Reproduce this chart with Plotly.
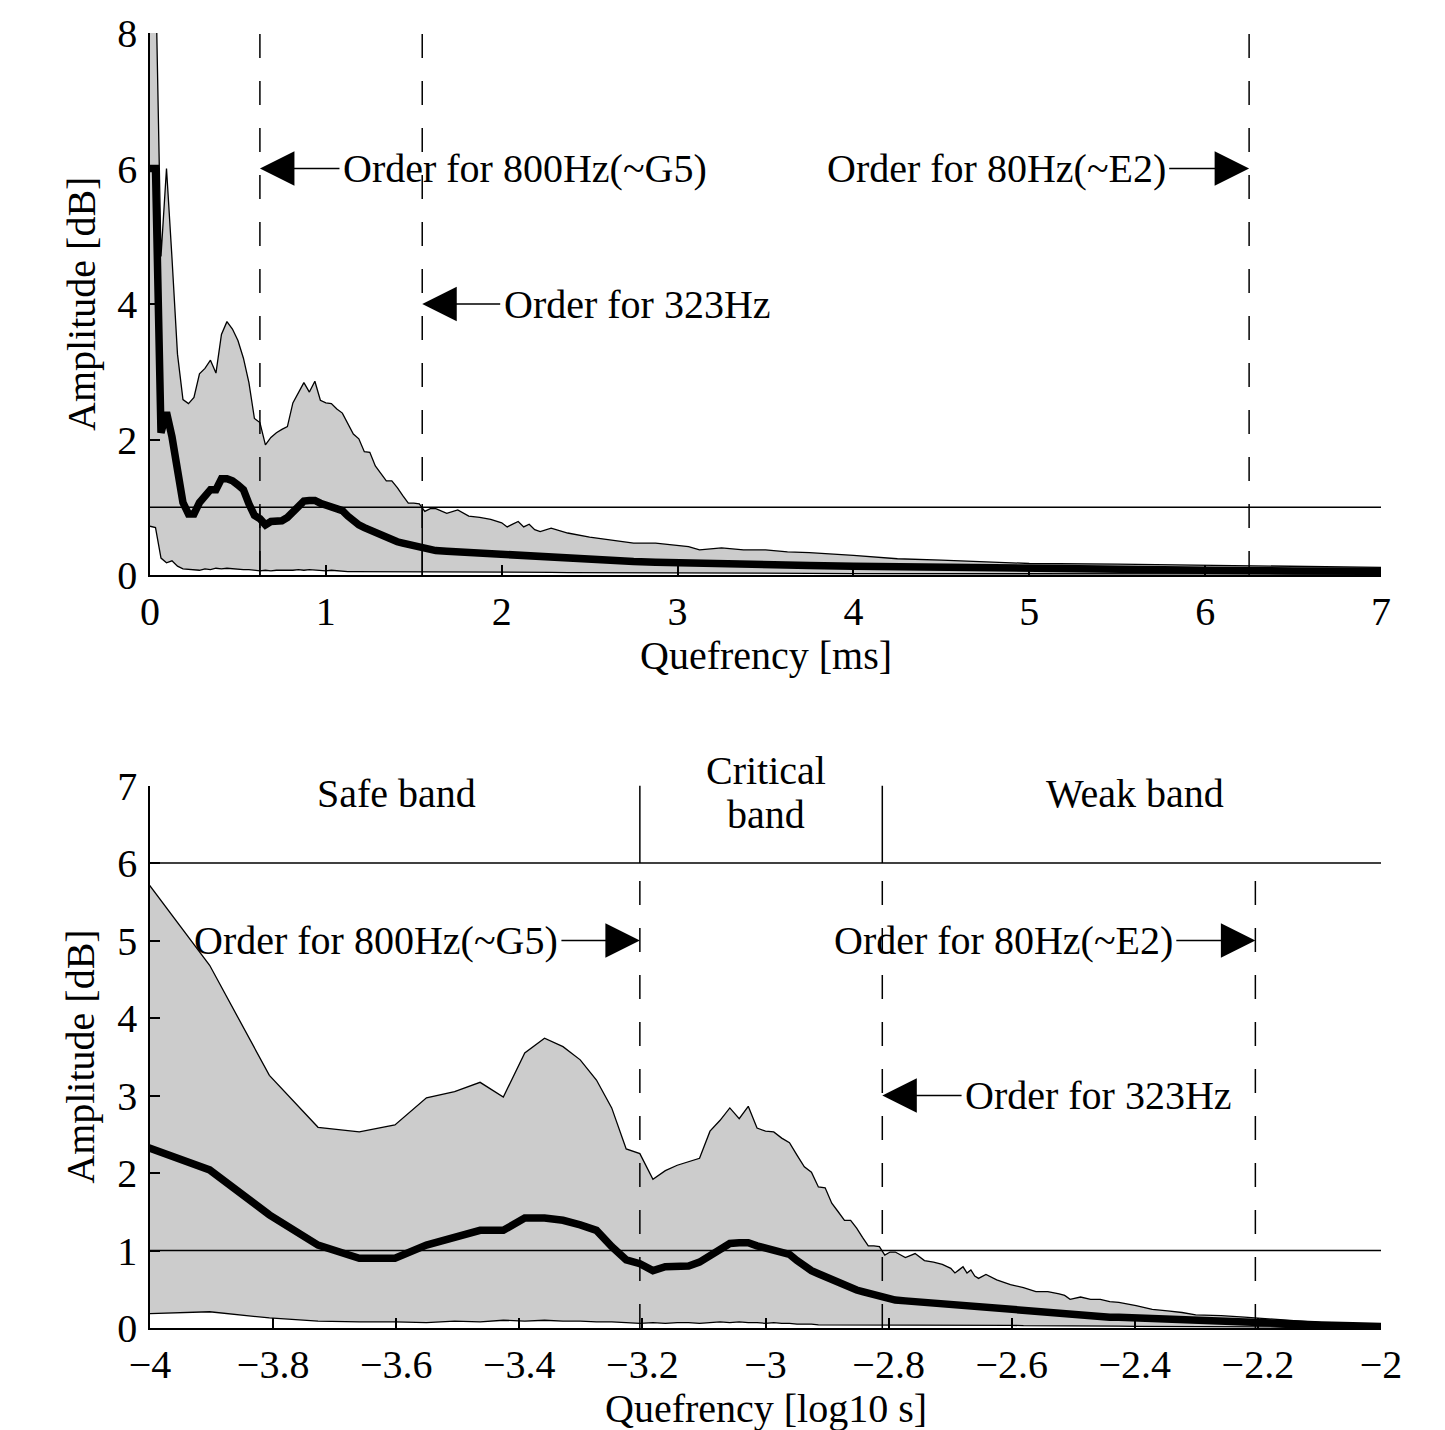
import numpy as np
import plotly.graph_objects as go

# ---------------- data ----------------
quefrency_ms = [
    0.0, 0.0313, 0.0625, 0.0938, 0.125, 0.1563, 0.1875, 0.2188, 0.25, 0.2813,
    0.3125, 0.3438, 0.375, 0.4063, 0.4375, 0.4688, 0.5, 0.5313, 0.5625, 0.5938,
    0.625, 0.6563, 0.6875, 0.7188, 0.75, 0.7813, 0.8125, 0.8438, 0.875, 0.9063,
    0.9375, 0.9688, 1.0, 1.0313, 1.0625, 1.0938, 1.125, 1.1563, 1.1875, 1.2188,
    1.25, 1.2813, 1.3125, 1.3438, 1.375, 1.4063, 1.4375, 1.4688, 1.5, 1.5313,
    1.5625, 1.5938,
    1.625, 1.6875, 1.75, 1.8125, 1.875, 1.9375, 2.0, 2.03125, 2.0625, 2.09375,
    2.125, 2.15625, 2.1875, 2.21875, 2.28125, 2.375, 2.5, 2.625, 2.75, 2.875,
    3.0, 3.0625, 3.125, 3.25, 3.375, 3.5, 3.625, 3.75, 4.0, 4.25,
    4.5, 4.75, 5.0, 5.5, 6.0, 6.5, 7.0, 8.0, 9.0, 10.0,
]
upper_db = [
    9.0, 9.0, 4.7, 6.0, 4.68, 3.26, 2.59, 2.53, 2.62, 2.97,
    3.05, 3.17, 2.98, 3.55, 3.74, 3.63, 3.46, 3.20, 2.84, 2.31,
    2.25, 1.92, 2.03, 2.10, 2.15, 2.19, 2.54, 2.68, 2.84, 2.70,
    2.86, 2.58, 2.54, 2.53, 2.45, 2.39, 2.23, 2.08, 2.01, 1.82,
    1.81, 1.61, 1.50, 1.39, 1.39, 1.29, 1.17, 1.06, 1.06, 1.05,
    0.94, 0.98,
    0.98, 0.91, 0.96, 0.87, 0.85, 0.82, 0.77, 0.71, 0.75, 0.79,
    0.71, 0.75, 0.67, 0.64, 0.69, 0.62, 0.56, 0.52, 0.47, 0.47,
    0.44, 0.42, 0.37, 0.40, 0.37, 0.37, 0.34, 0.33, 0.29, 0.24,
    0.22, 0.20, 0.17, 0.16, 0.14, 0.12, 0.11, 0.07, 0.05, 0.04,
]
mean_db = [
    6.0, 6.0, 2.1, 2.40, 2.04, 1.46, 1.07, 0.90, 0.90, 1.07,
    1.18, 1.26, 1.26, 1.42, 1.42, 1.39, 1.33, 1.26, 1.05, 0.88,
    0.83, 0.74, 0.79, 0.80, 0.80, 0.85, 0.94, 1.03, 1.09, 1.10,
    1.10, 1.06, 1.03, 1.01, 0.98, 0.95, 0.87, 0.80, 0.74, 0.70,
    0.66, 0.62, 0.58, 0.55, 0.51, 0.49, 0.47, 0.45, 0.42, 0.40,
    0.38, 0.37,
    0.36, 0.35, 0.34, 0.33, 0.32, 0.31, 0.30, 0.29, 0.29, 0.28,
    0.28, 0.27, 0.27, 0.26, 0.25, 0.24, 0.22, 0.21, 0.20, 0.19,
    0.18, 0.17, 0.17, 0.16, 0.16, 0.15, 0.14, 0.14, 0.13, 0.12,
    0.11, 0.10, 0.09, 0.08, 0.07, 0.06, 0.05, 0.04, 0.03, 0.02,
]
lower_db = [
    0.72, 0.70, 0.25, 0.18, 0.21, 0.13, 0.09, 0.08, 0.08, 0.07,
    0.09, 0.08, 0.10, 0.09, 0.10, 0.09, 0.09, 0.08, 0.08, 0.07,
    0.06, 0.07, 0.06, 0.07, 0.07, 0.06, 0.07, 0.08, 0.07, 0.08,
    0.07, 0.07, 0.06, 0.07, 0.06, 0.06, 0.05, 0.05, 0.05, 0.04,
    0.04, 0.04, 0.04, 0.04, 0.04, 0.04, 0.04, 0.04, 0.04, 0.04,
    0.04, 0.04,
    0.04, 0.04, 0.04, 0.04, 0.04, 0.04, 0.04, 0.04, 0.04, 0.04,
    0.04, 0.04, 0.04, 0.04, 0.04, 0.035, 0.035, 0.03, 0.03, 0.03,
    0.03, 0.03, 0.03, 0.03, 0.025, 0.025, 0.025, 0.025, 0.02, 0.02,
    0.02, 0.02, 0.02, 0.015, 0.015, 0.015, 0.01, 0.01, 0.01, 0.01,
]

# order markers (ms): 800 Hz, 323 Hz, 80 Hz
order_800_ms = 0.625
order_323_ms = 1.548
order_80_ms = 6.25
threshold_db = 1
band_line_db = 6

top_xticks = [0, 1, 2, 3, 4, 5, 6, 7]
top_yticks = [0, 2, 4, 6, 8]
bot_xticks = [-4, -3.8, -3.6, -3.4, -3.2, -3.0, -2.8, -2.6, -2.4, -2.2, -2.0]
bot_xticklabels = ["\u22124", "\u22123.8", "\u22123.6", "\u22123.4", "\u22123.2", "\u22123",
                   "\u22122.8", "\u22122.6", "\u22122.4", "\u22122.2", "\u22122"]
bot_yticks = [0, 1, 2, 3, 4, 5, 6, 7]

# ---------------- figure ----------------
FONT = "Liberation Serif"
FS = 40
GRAY = "#cccccc"

q = np.array(quefrency_ms)
up = np.array(upper_db)
mn = np.array(mean_db)
lo = np.array(lower_db)

mask = q > 0
qlog = np.log10(q[mask] / 1000.0)

fig = go.Figure()

def add_band(x, lo_, up_, mn_, xa, ya):
    fig.add_trace(go.Scatter(x=x, y=lo_, xaxis=xa, yaxis=ya, mode="lines",
                             line=dict(color="black", width=1.3),
                             showlegend=False, hoverinfo="skip"))
    fig.add_trace(go.Scatter(x=x, y=up_, xaxis=xa, yaxis=ya, mode="lines",
                             fill="tonexty", fillcolor=GRAY,
                             line=dict(color="black", width=1.3),
                             showlegend=False, hoverinfo="skip"))
    fig.add_trace(go.Scatter(x=x, y=mn_, xaxis=xa, yaxis=ya, mode="lines",
                             line=dict(color="black", width=7.5),
                             showlegend=False, hoverinfo="skip"))

add_band(q, lo, up, mn, "x", "y")
add_band(qlog, lo[mask], up[mask], mn[mask], "x2", "y2")

DASH = "24px,23px"
shapes = []
# top panel lines
shapes.append(dict(type="line", xref="x", yref="y", x0=0, x1=7, y0=threshold_db, y1=threshold_db,
                   line=dict(color="black", width=1.5), layer="above"))
for xm in (order_800_ms, order_323_ms, order_80_ms):
    shapes.append(dict(type="line", xref="x", yref="y", x0=xm, x1=xm, y0=0, y1=8,
                       line=dict(color="black", width=1.5, dash=DASH), layer="above"))
for xm in (order_800_ms, order_323_ms):
    shapes.append(dict(type="line", xref="x", yref="y", x0=xm, x1=xm, y0=0, y1=threshold_db,
                       line=dict(color="black", width=1.5), layer="above"))

# bottom panel lines
l800 = np.log10(order_800_ms / 1000)
l323 = np.log10(order_323_ms / 1000)
l80 = np.log10(order_80_ms / 1000)
for yv in (threshold_db, band_line_db):
    shapes.append(dict(type="line", xref="x2", yref="y2", x0=-4, x1=-2, y0=yv, y1=yv,
                       line=dict(color="black", width=1.5), layer="above"))
for xm in (l800, l323, l80):
    shapes.append(dict(type="line", xref="x2", yref="y2", x0=xm, x1=xm, y0=0, y1=band_line_db,
                       line=dict(color="black", width=1.5, dash=DASH), layer="above"))
for xm in (l800, l323):
    shapes.append(dict(type="line", xref="x2", yref="y2", x0=xm, x1=xm, y0=band_line_db, y1=7,
                       line=dict(color="black", width=1.5), layer="above"))

ann = []
tfont = dict(family=FONT, size=FS, color="black")

def arrow(xr, yr, x, y, ax):
    ann.append(dict(xref=xr, yref=yr, axref=xr, ayref=yr, x=x, y=y, ax=ax, ay=y,
                    text="", showarrow=True, arrowhead=2, arrowsize=4.6, arrowwidth=1.5,
                    arrowcolor="black", standoff=0, startstandoff=0))

def label(xr, yr, x, y, text, xanchor, yshift=0):
    ann.append(dict(xref=xr, yref=yr, x=x, y=y, text=text, showarrow=False, yshift=yshift,
                    xanchor=xanchor, yanchor="middle", font=tfont))

# top annotations
t800_x = 1.086
t80_x = 5.787
t323_x = 2.0
arrow("x", "y", order_800_ms, 6, t800_x)
label("x", "y", t800_x, 6, "Order for 800Hz(~G5)", "left")
arrow("x", "y", order_80_ms, 6, t80_x)
label("x", "y", t80_x, 6, "Order for 80Hz(~E2)", "right")
arrow("x", "y", order_323_ms, 4, t323_x)
label("x", "y", t323_x, 4, "Order for 323Hz", "left")

# bottom annotations
b800_x = -3.334
b80_x = -2.335
b323_x = -2.679
arrow("x2", "y2", l800, 5, b800_x)
label("x2", "y2", b800_x, 5, "Order for 800Hz(~G5)", "right")
arrow("x2", "y2", l80, 5, b80_x)
label("x2", "y2", b80_x, 5, "Order for 80Hz(~E2)", "right")
arrow("x2", "y2", l323, 3, b323_x)
label("x2", "y2", b323_x, 3, "Order for 323Hz", "left")

label("x2", "y2", -3.6, 6.9, "Safe band", "center")
label("x2", "y2", -3.0, 6.63, "Critical", "center", yshift=44)
label("x2", "y2", -3.0, 6.63, "band", "center")
label("x2", "y2", -2.4, 6.9, "Weak band", "center")

# axis titles
ann.append(dict(xref="paper", yref="y domain", x=0, y=0.5, xshift=-69, text="Amplitude [dB]",
                textangle=-90, showarrow=False, xanchor="center", yanchor="middle", font=tfont))
ann.append(dict(xref="paper", yref="y2 domain", x=0, y=0.5, xshift=-69, text="Amplitude [dB]",
                textangle=-90, showarrow=False, xanchor="center", yanchor="middle", font=tfont))
ann.append(dict(xref="x domain", yref="y domain", x=0.5, y=0, yshift=-80, text="Quefrency [ms]",
                showarrow=False, xanchor="center", yanchor="middle", font=tfont))
ann.append(dict(xref="x2 domain", yref="y2 domain", x=0.5, y=0, yshift=-80, text="Quefrency [log10 s]",
                showarrow=False, xanchor="center", yanchor="middle", font=tfont))

axis_common = dict(showline=True, linecolor="black", linewidth=1.5, ticks="inside", ticklen=10,
                   tickwidth=1.5, tickcolor="black", showgrid=False, zeroline=False,
                   automargin=False,
                   tickfont=dict(family=FONT, size=FS, color="black"), mirror=False)

W, H = 1445, 1430
ml, mr, mt, mb = 150, 1445 - 1381, 33, 1430 - 1328
ph = H - mt - mb
top_dom = [(1328 - 575) / ph, 1.0]
bot_dom = [0.0, (1328 - 785.5) / ph]

fig.update_layout(
    width=W, height=H,
    margin=dict(l=ml, r=mr, t=mt, b=mb, autoexpand=False),
    paper_bgcolor="white", plot_bgcolor="white",
    showlegend=False,
    xaxis=dict(domain=[0, 1], range=[0, 7], anchor="y", tickvals=top_xticks,
               ticklabelstandoff=0, **axis_common),
    yaxis=dict(domain=top_dom, range=[0, 8], anchor="x", tickvals=top_yticks,
               ticklabelstandoff=3, **axis_common),
    xaxis2=dict(domain=[0, 1], range=[-4, -2], anchor="y2", tickvals=bot_xticks,
                ticktext=bot_xticklabels, ticklabelstandoff=0, **axis_common),
    yaxis2=dict(domain=bot_dom, range=[0, 7], anchor="x2", tickvals=bot_yticks,
                ticklabelstandoff=3, **axis_common),
    shapes=shapes,
    annotations=ann,
)

fig.write_html(
    "out.html",
    config={"displayModeBar": False},
    post_script="document.body.style.margin='0px';document.body.style.overflow='hidden';",
)
